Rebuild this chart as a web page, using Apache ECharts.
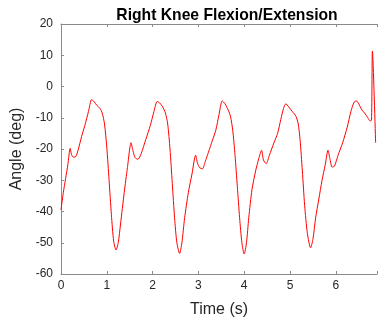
<!DOCTYPE html>
<html>
<head>
<meta charset="utf-8">
<script src="https://cdn.jsdelivr.net/npm/echarts@6/dist/echarts.min.js"></script>
<style>
  html, body { margin: 0; padding: 0; background: #fff; }
  #chart { width: 380px; height: 323px; }
</style>
</head>
<body>
<div id="chart"></div>
<script>
// Knee angle trace (seconds, degrees)
const timeSec = [
  0, 0.05, 0.1, 0.15, 0.2, 0.23, 0.27, 0.32, 0.38, 0.45, 0.52, 0.6, 0.67, 0.72, 0.78, 0.85, 0.9, 0.95,
  1.0, 1.05, 1.1, 1.15, 1.2, 1.25, 1.3, 1.38, 1.45, 1.53, 1.57, 1.62, 1.68, 1.75, 1.85, 1.95,
  2.03, 2.1, 2.15, 2.22, 2.28, 2.33, 2.38, 2.43, 2.48, 2.53, 2.59, 2.64, 2.7, 2.78, 2.86, 2.94, 2.98,
  3.03, 3.09, 3.15, 3.22, 3.3, 3.38, 3.45, 3.52, 3.58, 3.65, 3.7, 3.75, 3.8, 3.85, 3.9, 3.95,
  4.0, 4.05, 4.1, 4.17, 4.25, 4.32, 4.38, 4.42, 4.48, 4.55, 4.65, 4.73, 4.8, 4.86, 4.91, 4.97,
  5.05, 5.13, 5.18, 5.22, 5.27, 5.32, 5.38, 5.45, 5.5, 5.56, 5.63, 5.7, 5.77, 5.83, 5.87, 5.92, 5.97,
  6.05, 6.15, 6.25, 6.33, 6.4, 6.45, 6.5, 6.57, 6.63, 6.7, 6.75, 6.78, 6.8, 6.87
];
const angleDeg = [
  -39.5, -34, -29.5, -25, -19.8, -21.8, -22.6, -22.5, -20, -16, -12.5, -8, -4.2, -4.8, -6, -7, -8.5, -12,
  -19.5, -30, -41, -49.5, -52.3, -50, -44, -34, -26, -18, -20.5, -22.8, -23.3, -21.5, -17, -12.5,
  -8, -4.8, -5.2, -6.5, -8.5, -12, -20, -31, -42, -50, -53.4, -50, -42, -34, -28, -22, -24.5,
  -26, -26.3, -24, -21, -17.5, -14, -9, -4.6, -5.5, -7.5, -9.5, -14, -22, -32, -42, -50,
  -53.6, -50, -42, -33, -27, -23, -20.4, -23.5, -24.7, -22, -18, -15, -10.5, -7, -5.5, -6.5,
  -8, -9.5, -12, -17, -27, -38, -47, -51.6, -49, -42, -36, -30, -25, -20.4, -23, -25.8, -25.5,
  -22, -18, -13, -8, -5, -4.6, -5.5, -7.5, -8.5, -10, -11, -10.8, 11.3, -18
];
const xTicks = { min: 0, max: 6.9, step: 1 };
const yTicks = { min: -60, max: 20, step: 10 };

const points = timeSec.map((t, i) => [t, angleDeg[i]]);

const axisGray = '#8a8a8a';
const textDark = '#262626';
const font = '"Liberation Sans", Arial, Helvetica, sans-serif';

const chart = echarts.init(document.getElementById('chart'), null, { renderer: 'canvas' });
chart.setOption({
  animation: false,
  backgroundColor: '#fff',
  title: {
    text: 'Right Knee Flexion/Extension',
    left: 222, top: 3, textAlign: 'center',
    textStyle: { fontFamily: font, fontSize: 15.7, fontWeight: 'bold', color: '#000' }
  },
  // plot area runs slightly past the right edge of the canvas
  grid: { left: 61, top: 24, width: 319.5, height: 251, containLabel: false },
  xAxis: [{
    type: 'value', min: xTicks.min, max: xTicks.max, interval: xTicks.step,
    name: 'Time (s)', nameLocation: 'middle', nameGap: 28,
    nameTextStyle: { fontFamily: font, fontSize: 16, color: textDark },
    axisLine: { show: true, onZero: false, lineStyle: { color: axisGray, width: 1 } },
    axisTick: { show: true, inside: true, length: 3, lineStyle: { color: axisGray } },
    axisLabel: {
      fontFamily: font, fontSize: 12, color: textDark, margin: 6,
      formatter: v => (Number.isInteger(v) ? String(v) : '')
    },
    splitLine: { show: false }
  }, {
    type: 'value', position: 'top', min: xTicks.min, max: xTicks.max, interval: xTicks.step,
    axisLine: { show: true, onZero: false, lineStyle: { color: axisGray, width: 1 } },
    axisTick: { show: true, inside: true, length: 3, lineStyle: { color: axisGray } },
    axisLabel: { show: false },
    splitLine: { show: false }
  }],
  yAxis: {
    type: 'value', min: yTicks.min, max: yTicks.max, interval: yTicks.step,
    name: 'Angle (deg)', nameLocation: 'middle', nameGap: 31, nameRotate: 90,
    nameTextStyle: { fontFamily: font, fontSize: 16, color: textDark },
    axisLine: { show: true, onZero: false, lineStyle: { color: axisGray, width: 1 } },
    axisTick: { show: true, inside: true, length: 3, lineStyle: { color: axisGray } },
    axisLabel: { fontFamily: font, fontSize: 12, color: textDark, margin: 8 },
    splitLine: { show: false }
  },
  series: [{
    type: 'line',
    data: points,
    showSymbol: false,
    smooth: 0.25,
    clip: true,
    lineStyle: { color: '#ff0000', width: 1 }
  }]
});
</script>
</body>
</html>
